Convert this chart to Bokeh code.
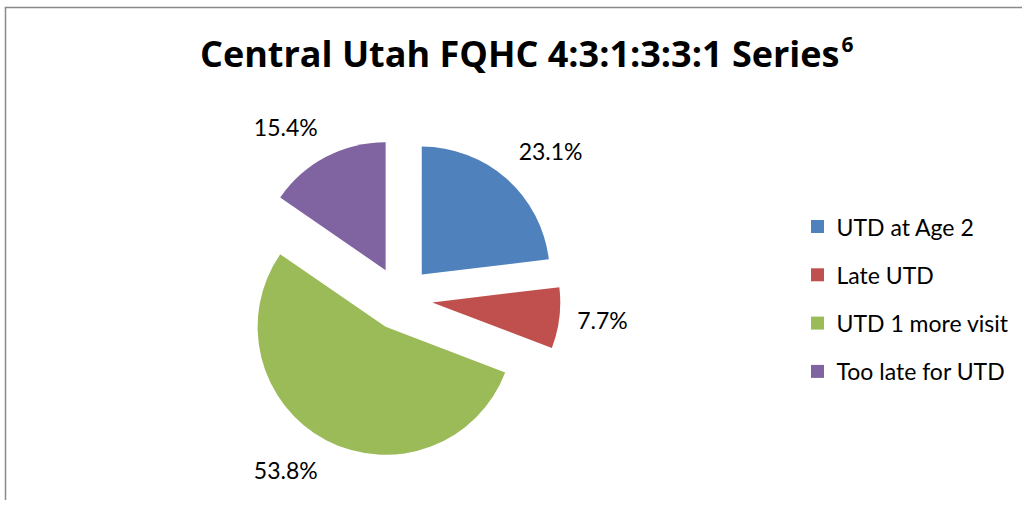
import math
from bokeh.plotting import figure
from bokeh.models import ColumnDataSource, Range1d
from bokeh.core.properties import value
from bokeh.embed import file_html
from bokeh.resources import INLINE

# ---- data ----
categories = ["UTD at Age 2", "Late UTD", "UTD 1 more visit", "Too late for UTD"]
percents = [23.1, 7.7, 53.8, 15.4]
colors = ["#4F81BD", "#C0504D", "#9BBB59", "#8064A2"]
title_main = "Central Utah FQHC 4:3:1:3:3:1 Series"
title_sup = "6"

# ---- layout constants (pixels; y measured upward) ----
W, H = 1022, 500
CX, CY = 400, 202        # pie centre
R = 128                  # radius
EXPLODE = 32             # explosion distance
LABEL_R = 146            # label anchor distance from slice centre
FONT = "Lato"
TITLE_FONT = "Open Sans"

p = figure(width=W, height=H, output_backend="svg", toolbar_location=None,
           x_range=Range1d(0, W), y_range=Range1d(0, H), min_border=0,
           x_axis_location=None, y_axis_location=None, outline_line_color=None)
p.grid.visible = False
p.background_fill_color = "white"
p.border_fill_color = "white"

total = sum(percents)
xs, ys, starts, ends = [], [], [], []
lx, ly, laligns, lbases, ltexts = [], [], [], [], []
cum = 0.0
for v in percents:
    a = cum / total
    b = (cum + v) / total
    cum += v
    sa = math.radians(90 - 360 * b)
    ea = math.radians(90 - 360 * a)
    m = (sa + ea) / 2
    cx = CX + EXPLODE * math.cos(m)
    cy = CY + EXPLODE * math.sin(m)
    xs.append(cx); ys.append(cy); starts.append(sa); ends.append(ea)
    c, s = math.cos(m), math.sin(m)
    lx.append(cx + LABEL_R * c)
    ly.append(cy + LABEL_R * s)
    laligns.append("left" if c > 0.3 else ("right" if c < -0.3 else "center"))
    lbases.append("bottom" if s > 0.3 else ("top" if s < -0.3 else "middle"))
    ltexts.append(f"{v:.1f}%")

src = ColumnDataSource(dict(x=xs, y=ys, start=starts, end=ends, color=colors))
p.wedge(x="x", y="y", radius=R, start_angle="start", end_angle="end",
        direction="anticlock", fill_color="color", line_color=None, source=src)

lsrc = ColumnDataSource(dict(x=lx, y=ly, text=ltexts, align=laligns, base=lbases))
p.text(x="x", y="y", text="text", text_align="align", text_baseline="base",
       text_font=value(FONT), text_font_size="23px", text_color="black", source=lsrc)

# legend
LEG_X, LEG_Y0, LEG_DY = 817, 274, 48.3
leg_y = [LEG_Y0 - i * LEG_DY for i in range(len(categories))]
legsrc = ColumnDataSource(dict(x=[LEG_X] * len(categories), y=leg_y,
                               tx=[LEG_X + 19] * len(categories),
                               text=categories, color=colors))
p.rect(x="x", y="y", width=13, height=13, fill_color="color", line_color=None, source=legsrc)
p.text(x="tx", y="y", text="text", text_align="left", text_baseline="middle",
       text_font=value(FONT), text_font_size="23px", text_color="black", source=legsrc)

# title (main text right-aligned, superscript after it)
p.text(x=[839], y=[447], text=[title_main], text_align="right", text_baseline="alphabetic",
       text_font=value(TITLE_FONT), text_font_style="bold", text_font_size="36px",
       text_color="black")
p.text(x=[841], y=[456], text=[title_sup], text_align="left", text_baseline="alphabetic",
       text_font=value(TITLE_FONT), text_font_style="bold", text_font_size="21px",
       text_color="black")

# chart border (left and top)
p.segment(x0=[5, 4.25], y0=[0, 493], x1=[5, W], y1=[493, 493],
          line_color="#8A8A8A", line_width=1.5)

open("out.html", "w").write(file_html(p, INLINE))
